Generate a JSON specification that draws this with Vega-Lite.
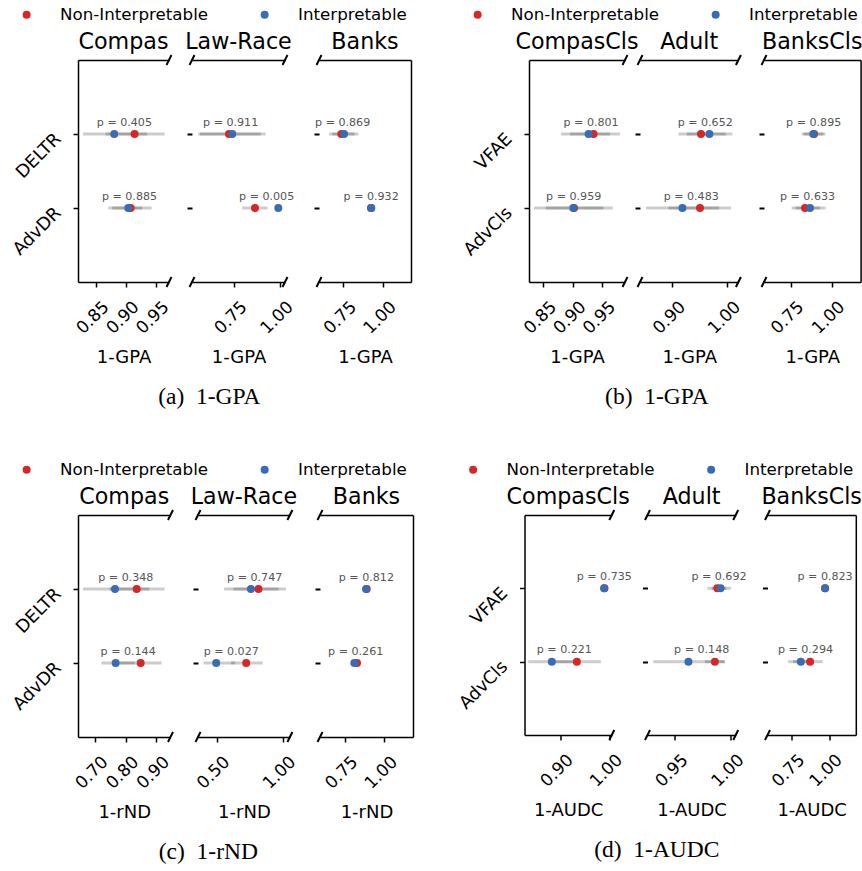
{
"$schema": "https://vega.github.io/schema/vega-lite/v6.json",
"background": "white",
"padding": {"left": 9, "top": 6, "right": 0, "bottom": 0},
"datasets": {"pts": [
{"f":"a1","m":"DELTR","g":"Non-Interpretable","v":0.9145,"lo":0.8662,"hi":0.9645,"p":0.405},
{"f":"a1","m":"AdvDR","g":"Non-Interpretable","v":0.908,"lo":0.8772,"hi":0.9428,"p":0.885},
{"f":"a2","m":"DELTR","g":"Non-Interpretable","v":0.7228,"lo":0.565,"hi":0.895,"p":0.911},
{"f":"a2","m":"AdvDR","g":"Non-Interpretable","v":0.864,"lo":0.795,"hi":0.933,"p":0.005},
{"f":"a3","m":"DELTR","g":"Non-Interpretable","v":0.7374,"lo":0.66,"hi":0.82,"p":0.869},
{"f":"a3","m":"AdvDR","g":"Non-Interpretable","v":0.924,"lo":0.924,"hi":0.924,"p":0.932},
{"f":"b1","m":"VFAE","g":"Non-Interpretable","v":0.935,"lo":0.8951,"hi":0.9798,"p":0.801},
{"f":"b1","m":"AdvCls","g":"Non-Interpretable","v":0.902,"lo":0.8539,"hi":0.9675,"p":0.959},
{"f":"b2","m":"VFAE","g":"Non-Interpretable","v":0.952,"lo":0.9109,"hi":0.9969,"p":0.652},
{"f":"b2","m":"AdvCls","g":"Non-Interpretable","v":0.9502,"lo":0.8927,"hi":1.0065,"p":0.483},
{"f":"b3","m":"VFAE","g":"Non-Interpretable","v":0.893,"lo":0.817,"hi":0.95,"p":0.895},
{"f":"b3","m":"AdvCls","g":"Non-Interpretable","v":0.8378,"lo":0.756,"hi":0.93,"p":0.633},
{"f":"c1","m":"DELTR","g":"Non-Interpretable","v":0.836,"lo":0.747,"hi":0.9273,"p":0.348},
{"f":"c1","m":"AdvDR","g":"Non-Interpretable","v":0.849,"lo":0.78,"hi":0.9173,"p":0.144},
{"f":"c2","m":"DELTR","g":"Non-Interpretable","v":0.818,"lo":0.629,"hi":1.027,"p":0.747},
{"f":"c2","m":"AdvDR","g":"Non-Interpretable","v":0.725,"lo":0.61,"hi":0.85,"p":0.027},
{"f":"c3","m":"DELTR","g":"Non-Interpretable","v":0.889,"lo":0.889,"hi":0.889,"p":0.812},
{"f":"c3","m":"AdvDR","g":"Non-Interpretable","v":0.8277,"lo":0.8277,"hi":0.8277,"p":0.261},
{"f":"d1","m":"VFAE","g":"Non-Interpretable","v":0.99,"lo":0.99,"hi":0.99,"p":0.735},
{"f":"d1","m":"AdvCls","g":"Non-Interpretable","v":0.934,"lo":0.883,"hi":0.9828,"p":0.221},
{"f":"d2","m":"VFAE","g":"Non-Interpretable","v":0.9879,"lo":0.9791,"hi":0.996,"p":0.692},
{"f":"d2","m":"AdvCls","g":"Non-Interpretable","v":0.9857,"lo":0.9768,"hi":0.9946,"p":0.148},
{"f":"d3","m":"VFAE","g":"Non-Interpretable","v":0.973,"lo":0.973,"hi":0.973,"p":0.823},
{"f":"d3","m":"AdvCls","g":"Non-Interpretable","v":0.8737,"lo":0.76,"hi":0.957,"p":0.294},
{"f":"a1","m":"DELTR","g":"Interpretable","v":0.8805,"lo":0.8283,"hi":0.9355,"p":0.405},
{"f":"a1","m":"AdvDR","g":"Interpretable","v":0.904,"lo":0.8705,"hi":0.9272,"p":0.885},
{"f":"a2","m":"DELTR","g":"Interpretable","v":0.7408,"lo":0.556,"hi":0.922,"p":0.911},
{"f":"a2","m":"AdvDR","g":"Interpretable","v":0.9908,"lo":0.9908,"hi":0.9908,"p":0.005},
{"f":"a3","m":"DELTR","g":"Interpretable","v":0.7544,"lo":0.68,"hi":0.8445,"p":0.869},
{"f":"a3","m":"AdvDR","g":"Interpretable","v":0.9263,"lo":0.9263,"hi":0.9263,"p":0.932},
{"f":"b1","m":"VFAE","g":"Interpretable","v":0.9266,"lo":0.8798,"hi":0.9629,"p":0.801},
{"f":"b1","m":"AdvCls","g":"Interpretable","v":0.9007,"lo":0.8342,"hi":0.9517,"p":0.959},
{"f":"b2","m":"VFAE","g":"Interpretable","v":0.9673,"lo":0.926,"hi":1.0091,"p":0.652},
{"f":"b2","m":"AdvCls","g":"Interpretable","v":0.9182,"lo":0.852,"hi":0.9847,"p":0.483},
{"f":"b3","m":"VFAE","g":"Interpretable","v":0.8884,"lo":0.83,"hi":0.9634,"p":0.895},
{"f":"b3","m":"AdvCls","g":"Interpretable","v":0.8683,"lo":0.78,"hi":0.963,"p":0.633},
{"f":"c1","m":"DELTR","g":"Interpretable","v":0.7652,"lo":0.6609,"hi":0.877,"p":0.348},
{"f":"c1","m":"AdvDR","g":"Interpretable","v":0.7674,"lo":0.7206,"hi":0.83,"p":0.144},
{"f":"c2","m":"DELTR","g":"Interpretable","v":0.7606,"lo":0.558,"hi":0.97,"p":0.747},
{"f":"c2","m":"AdvDR","g":"Interpretable","v":0.4977,"lo":0.401,"hi":0.64,"p":0.027},
{"f":"c3","m":"DELTR","g":"Interpretable","v":0.8845,"lo":0.8845,"hi":0.8845,"p":0.812},
{"f":"c3","m":"AdvDR","g":"Interpretable","v":0.8106,"lo":0.8106,"hi":0.8106,"p":0.261},
{"f":"d1","m":"VFAE","g":"Interpretable","v":0.9893,"lo":0.9893,"hi":0.9893,"p":0.735},
{"f":"d1","m":"AdvCls","g":"Interpretable","v":0.8832,"lo":0.8355,"hi":0.934,"p":0.221},
{"f":"d2","m":"VFAE","g":"Interpretable","v":0.9908,"lo":0.983,"hi":1.0,"p":0.692},
{"f":"d2","m":"AdvCls","g":"Interpretable","v":0.9621,"lo":0.9306,"hi":0.9946,"p":0.148},
{"f":"d3","m":"VFAE","g":"Interpretable","v":0.9734,"lo":0.9734,"hi":0.9734,"p":0.823},
{"f":"d3","m":"AdvCls","g":"Interpretable","v":0.8118,"lo":0.728,"hi":0.9,"p":0.294}
]},
"vconcat": [
{"hconcat": [
{"hconcat": [
{"width":91,"height":222,"title":{"text":"Compas"},"layer":[
{"data":{"name":"pts"},"transform":[{"filter":"datum.f=='a1'"}],"mark":{"type":"rule","color":"black","opacity":0.2,"strokeWidth":3},"encoding":{"x":{"field":"lo","type":"quantitative","scale":{"domain":[0.82,0.972],"nice":false,"zero":false},"axis":{"values":[0.85,0.9,0.95],"format":".2f","title":"1-GPA"}},"x2":{"field":"hi"},"y":{"field":"m","type":"nominal","scale":{"type":"point","domain":["DELTR","AdvDR"],"padding":1},"axis":{"title":null}}}},
{"data":{"name":"pts"},"transform":[{"filter":"datum.f=='a1'"}],"mark":{"type":"point","filled":true,"size":64,"opacity":1},"encoding":{"x":{"field":"v","type":"quantitative","scale":{"domain":[0.82,0.972],"nice":false,"zero":false},"axis":null},"y":{"field":"m","type":"nominal","scale":{"type":"point","domain":["DELTR","AdvDR"],"padding":1},"axis":null},"color":{"field":"g","type":"nominal","scale":{"domain":["Non-Interpretable","Interpretable"],"range":["#d62728","#3a6bb5"]},"legend":{"title":null,"legendX":-59.7,"legendY":-54}}}},
{"data":{"name":"pts"},"transform":[{"filter":"datum.f=='a1'"},{"aggregate":[{"op":"mean","field":"v","as":"mid"}],"groupby":["m","p"]}],"mark":{"type":"text","fontSize":11.1,"color":"#555555","baseline":"alphabetic","dy":-8.5},"encoding":{"x":{"field":"mid","type":"quantitative","scale":{"domain":[0.82,0.972],"nice":false,"zero":false},"axis":null},"y":{"field":"m","type":"nominal","scale":{"type":"point","domain":["DELTR","AdvDR"],"padding":1},"axis":null},"text":{"value":{"expr":"'p = ' + format(datum.p, '.3f')"}}}},
{"data":{"values":[{"e":0.972}]},"mark":{"type":"point","shape":"M-0.5,1L0.5,-1","size":100,"filled":false,"color":"black","strokeWidth":2,"opacity":1},"encoding":{"x":{"field":"e","type":"quantitative","scale":{"domain":[0.82,0.972],"nice":false,"zero":false},"axis":{"orient":"top","labels":false,"ticks":false,"title":null}},"y":{"value":0}}},
{"data":{"values":[{"e":0.972}]},"mark":{"type":"point","shape":"M-0.5,1L0.5,-1","size":100,"filled":false,"color":"black","strokeWidth":2,"opacity":1},"encoding":{"x":{"field":"e","type":"quantitative","scale":{"domain":[0.82,0.972],"nice":false,"zero":false},"axis":null},"y":{"value":"height"}}}
],"resolve":{"axis":{"x":"independent","y":"independent"}}},
{"width":23,"height":222,"data":{"values":[{}]},"mark":{"type":"point","opacity":0}},
{"width":93,"height":222,"title":{"text":"Law-Race"},"layer":[
{"data":{"name":"pts"},"transform":[{"filter":"datum.f=='a2'"}],"mark":{"type":"rule","color":"black","opacity":0.2,"strokeWidth":3},"encoding":{"x":{"field":"lo","type":"quantitative","scale":{"domain":[0.522,1.027],"nice":false,"zero":false},"axis":{"values":[0.75,1.0],"format":".2f","title":"1-GPA"}},"x2":{"field":"hi"},"y":{"field":"m","type":"nominal","scale":{"type":"point","domain":["DELTR","AdvDR"],"padding":1},"axis":{"title":null,"labels":false,"domain":false,"tickWidth":2}}}},
{"data":{"name":"pts"},"transform":[{"filter":"datum.f=='a2'"}],"mark":{"type":"point","filled":true,"size":64,"opacity":1},"encoding":{"x":{"field":"v","type":"quantitative","scale":{"domain":[0.522,1.027],"nice":false,"zero":false},"axis":null},"y":{"field":"m","type":"nominal","scale":{"type":"point","domain":["DELTR","AdvDR"],"padding":1},"axis":null},"color":{"field":"g","type":"nominal","scale":{"domain":["Non-Interpretable","Interpretable"],"range":["#d62728","#3a6bb5"]},"legend":{"title":null,"legendX":-59.7,"legendY":-54}}}},
{"data":{"name":"pts"},"transform":[{"filter":"datum.f=='a2'"},{"aggregate":[{"op":"mean","field":"v","as":"mid"}],"groupby":["m","p"]}],"mark":{"type":"text","fontSize":11.1,"color":"#555555","baseline":"alphabetic","dy":-8.5},"encoding":{"x":{"field":"mid","type":"quantitative","scale":{"domain":[0.522,1.027],"nice":false,"zero":false},"axis":null},"y":{"field":"m","type":"nominal","scale":{"type":"point","domain":["DELTR","AdvDR"],"padding":1},"axis":null},"text":{"value":{"expr":"'p = ' + format(datum.p, '.3f')"}}}},
{"data":{"values":[{"e":0.522},{"e":1.027}]},"mark":{"type":"point","shape":"M-0.5,1L0.5,-1","size":100,"filled":false,"color":"black","strokeWidth":2,"opacity":1},"encoding":{"x":{"field":"e","type":"quantitative","scale":{"domain":[0.522,1.027],"nice":false,"zero":false},"axis":{"orient":"top","labels":false,"ticks":false,"title":null}},"y":{"value":0}}},
{"data":{"values":[{"e":0.522},{"e":1.027}]},"mark":{"type":"point","shape":"M-0.5,1L0.5,-1","size":100,"filled":false,"color":"black","strokeWidth":2,"opacity":1},"encoding":{"x":{"field":"e","type":"quantitative","scale":{"domain":[0.522,1.027],"nice":false,"zero":false},"axis":null},"y":{"value":"height"}}}
],"resolve":{"axis":{"x":"independent","y":"independent"}}},
{"width":34,"height":222,"data":{"values":[{}]},"mark":{"type":"point","opacity":0}},
{"width":92,"height":222,"title":{"text":"Banks"},"layer":[
{"data":{"name":"pts"},"transform":[{"filter":"datum.f=='a3'"}],"mark":{"type":"rule","color":"black","opacity":0.2,"strokeWidth":3},"encoding":{"x":{"field":"lo","type":"quantitative","scale":{"domain":[0.597,1.176],"nice":false,"zero":false},"axis":{"values":[0.75,1.0],"format":".2f","title":"1-GPA"}},"x2":{"field":"hi"},"y":{"field":"m","type":"nominal","scale":{"type":"point","domain":["DELTR","AdvDR"],"padding":1},"axis":{"title":null,"labels":false,"domain":false,"tickWidth":2}}}},
{"data":{"name":"pts"},"transform":[{"filter":"datum.f=='a3'"}],"mark":{"type":"point","filled":true,"size":64,"opacity":1},"encoding":{"x":{"field":"v","type":"quantitative","scale":{"domain":[0.597,1.176],"nice":false,"zero":false},"axis":null},"y":{"field":"m","type":"nominal","scale":{"type":"point","domain":["DELTR","AdvDR"],"padding":1},"axis":null},"color":{"field":"g","type":"nominal","scale":{"domain":["Non-Interpretable","Interpretable"],"range":["#d62728","#3a6bb5"]},"legend":{"title":null,"legendX":-59.7,"legendY":-54}}}},
{"data":{"name":"pts"},"transform":[{"filter":"datum.f=='a3'"},{"aggregate":[{"op":"mean","field":"v","as":"mid"}],"groupby":["m","p"]}],"mark":{"type":"text","fontSize":11.1,"color":"#555555","baseline":"alphabetic","dy":-8.5},"encoding":{"x":{"field":"mid","type":"quantitative","scale":{"domain":[0.597,1.176],"nice":false,"zero":false},"axis":null},"y":{"field":"m","type":"nominal","scale":{"type":"point","domain":["DELTR","AdvDR"],"padding":1},"axis":{"orient":"right","title":null,"labels":false,"ticks":false}},"text":{"value":{"expr":"'p = ' + format(datum.p, '.3f')"}}}},
{"data":{"values":[{"e":0.597}]},"mark":{"type":"point","shape":"M-0.5,1L0.5,-1","size":100,"filled":false,"color":"black","strokeWidth":2,"opacity":1},"encoding":{"x":{"field":"e","type":"quantitative","scale":{"domain":[0.597,1.176],"nice":false,"zero":false},"axis":{"orient":"top","labels":false,"ticks":false,"title":null}},"y":{"value":0}}},
{"data":{"values":[{"e":0.597}]},"mark":{"type":"point","shape":"M-0.5,1L0.5,-1","size":100,"filled":false,"color":"black","strokeWidth":2,"opacity":1},"encoding":{"x":{"field":"e","type":"quantitative","scale":{"domain":[0.597,1.176],"nice":false,"zero":false},"axis":null},"y":{"value":"height"}}}
],"resolve":{"axis":{"x":"independent","y":"independent"}}}
],"spacing":0,"bounds":"flush","title":{"text":"(a)\u20021-GPA","orient":"bottom","font":"Liberation Serif","fontSize":23.5,"frame":"bounds","offset":38,"baseline":"alphabetic","dx":-1}},
{"hconcat": [
{"width":96,"height":222,"title":{"text":"CompasCls"},"layer":[
{"data":{"name":"pts"},"transform":[{"filter":"datum.f=='b1'"}],"mark":{"type":"rule","color":"black","opacity":0.2,"strokeWidth":3},"encoding":{"x":{"field":"lo","type":"quantitative","scale":{"domain":[0.8256,0.9883],"nice":false,"zero":false},"axis":{"values":[0.85,0.9,0.95],"format":".2f","title":"1-GPA"}},"x2":{"field":"hi"},"y":{"field":"m","type":"nominal","scale":{"type":"point","domain":["VFAE","AdvCls"],"padding":1},"axis":{"title":null}}}},
{"data":{"name":"pts"},"transform":[{"filter":"datum.f=='b1'"}],"mark":{"type":"point","filled":true,"size":64,"opacity":1},"encoding":{"x":{"field":"v","type":"quantitative","scale":{"domain":[0.8256,0.9883],"nice":false,"zero":false},"axis":null},"y":{"field":"m","type":"nominal","scale":{"type":"point","domain":["VFAE","AdvCls"],"padding":1},"axis":null},"color":{"field":"g","type":"nominal","scale":{"domain":["Non-Interpretable","Interpretable"],"range":["#d62728","#3a6bb5"]},"legend":{"title":null,"legendX":-59.7,"legendY":-54}}}},
{"data":{"name":"pts"},"transform":[{"filter":"datum.f=='b1'"},{"aggregate":[{"op":"mean","field":"v","as":"mid"}],"groupby":["m","p"]}],"mark":{"type":"text","fontSize":11.1,"color":"#555555","baseline":"alphabetic","dy":-8.5},"encoding":{"x":{"field":"mid","type":"quantitative","scale":{"domain":[0.8256,0.9883],"nice":false,"zero":false},"axis":null},"y":{"field":"m","type":"nominal","scale":{"type":"point","domain":["VFAE","AdvCls"],"padding":1},"axis":null},"text":{"value":{"expr":"'p = ' + format(datum.p, '.3f')"}}}},
{"data":{"values":[{"e":0.9883}]},"mark":{"type":"point","shape":"M-0.5,1L0.5,-1","size":100,"filled":false,"color":"black","strokeWidth":2,"opacity":1},"encoding":{"x":{"field":"e","type":"quantitative","scale":{"domain":[0.8256,0.9883],"nice":false,"zero":false},"axis":{"orient":"top","labels":false,"ticks":false,"title":null}},"y":{"value":0}}},
{"data":{"values":[{"e":0.9883}]},"mark":{"type":"point","shape":"M-0.5,1L0.5,-1","size":100,"filled":false,"color":"black","strokeWidth":2,"opacity":1},"encoding":{"x":{"field":"e","type":"quantitative","scale":{"domain":[0.8256,0.9883],"nice":false,"zero":false},"axis":null},"y":{"value":"height"}}}
],"resolve":{"axis":{"x":"independent","y":"independent"}}},
{"width":15,"height":222,"data":{"values":[{}]},"mark":{"type":"point","opacity":0}},
{"width":98.4,"height":222,"title":{"text":"Adult"},"layer":[
{"data":{"name":"pts"},"transform":[{"filter":"datum.f=='b2'"}],"mark":{"type":"rule","color":"black","opacity":0.2,"strokeWidth":3},"encoding":{"x":{"field":"lo","type":"quantitative","scale":{"domain":[0.8411,1.02],"nice":false,"zero":false},"axis":{"values":[0.9,1.0],"format":".2f","title":"1-GPA"}},"x2":{"field":"hi"},"y":{"field":"m","type":"nominal","scale":{"type":"point","domain":["VFAE","AdvCls"],"padding":1},"axis":{"title":null,"labels":false,"domain":false,"tickWidth":2}}}},
{"data":{"name":"pts"},"transform":[{"filter":"datum.f=='b2'"}],"mark":{"type":"point","filled":true,"size":64,"opacity":1},"encoding":{"x":{"field":"v","type":"quantitative","scale":{"domain":[0.8411,1.02],"nice":false,"zero":false},"axis":null},"y":{"field":"m","type":"nominal","scale":{"type":"point","domain":["VFAE","AdvCls"],"padding":1},"axis":null},"color":{"field":"g","type":"nominal","scale":{"domain":["Non-Interpretable","Interpretable"],"range":["#d62728","#3a6bb5"]},"legend":{"title":null,"legendX":-59.7,"legendY":-54}}}},
{"data":{"name":"pts"},"transform":[{"filter":"datum.f=='b2'"},{"aggregate":[{"op":"mean","field":"v","as":"mid"}],"groupby":["m","p"]}],"mark":{"type":"text","fontSize":11.1,"color":"#555555","baseline":"alphabetic","dy":-8.5},"encoding":{"x":{"field":"mid","type":"quantitative","scale":{"domain":[0.8411,1.02],"nice":false,"zero":false},"axis":null},"y":{"field":"m","type":"nominal","scale":{"type":"point","domain":["VFAE","AdvCls"],"padding":1},"axis":null},"text":{"value":{"expr":"'p = ' + format(datum.p, '.3f')"}}}},
{"data":{"values":[{"e":0.8411},{"e":1.02}]},"mark":{"type":"point","shape":"M-0.5,1L0.5,-1","size":100,"filled":false,"color":"black","strokeWidth":2,"opacity":1},"encoding":{"x":{"field":"e","type":"quantitative","scale":{"domain":[0.8411,1.02],"nice":false,"zero":false},"axis":{"orient":"top","labels":false,"ticks":false,"title":null}},"y":{"value":0}}},
{"data":{"values":[{"e":0.8411},{"e":1.02}]},"mark":{"type":"point","shape":"M-0.5,1L0.5,-1","size":100,"filled":false,"color":"black","strokeWidth":2,"opacity":1},"encoding":{"x":{"field":"e","type":"quantitative","scale":{"domain":[0.8411,1.02],"nice":false,"zero":false},"axis":null},"y":{"value":"height"}}}
],"resolve":{"axis":{"x":"independent","y":"independent"}}},
{"width":25,"height":222,"data":{"values":[{}]},"mark":{"type":"point","opacity":0}},
{"width":96.6,"height":222,"title":{"text":"BanksCls"},"layer":[
{"data":{"name":"pts"},"transform":[{"filter":"datum.f=='b3'"}],"mark":{"type":"rule","color":"black","opacity":0.2,"strokeWidth":3},"encoding":{"x":{"field":"lo","type":"quantitative","scale":{"domain":[0.5878,1.1768],"nice":false,"zero":false},"axis":{"values":[0.75,1.0],"format":".2f","title":"1-GPA"}},"x2":{"field":"hi"},"y":{"field":"m","type":"nominal","scale":{"type":"point","domain":["VFAE","AdvCls"],"padding":1},"axis":{"title":null,"labels":false,"domain":false,"tickWidth":2}}}},
{"data":{"name":"pts"},"transform":[{"filter":"datum.f=='b3'"}],"mark":{"type":"point","filled":true,"size":64,"opacity":1},"encoding":{"x":{"field":"v","type":"quantitative","scale":{"domain":[0.5878,1.1768],"nice":false,"zero":false},"axis":null},"y":{"field":"m","type":"nominal","scale":{"type":"point","domain":["VFAE","AdvCls"],"padding":1},"axis":null},"color":{"field":"g","type":"nominal","scale":{"domain":["Non-Interpretable","Interpretable"],"range":["#d62728","#3a6bb5"]},"legend":{"title":null,"legendX":-59.7,"legendY":-54}}}},
{"data":{"name":"pts"},"transform":[{"filter":"datum.f=='b3'"},{"aggregate":[{"op":"mean","field":"v","as":"mid"}],"groupby":["m","p"]}],"mark":{"type":"text","fontSize":11.1,"color":"#555555","baseline":"alphabetic","dy":-8.5},"encoding":{"x":{"field":"mid","type":"quantitative","scale":{"domain":[0.5878,1.1768],"nice":false,"zero":false},"axis":null},"y":{"field":"m","type":"nominal","scale":{"type":"point","domain":["VFAE","AdvCls"],"padding":1},"axis":{"orient":"right","title":null,"labels":false,"ticks":false}},"text":{"value":{"expr":"'p = ' + format(datum.p, '.3f')"}}}},
{"data":{"values":[{"e":0.5878}]},"mark":{"type":"point","shape":"M-0.5,1L0.5,-1","size":100,"filled":false,"color":"black","strokeWidth":2,"opacity":1},"encoding":{"x":{"field":"e","type":"quantitative","scale":{"domain":[0.5878,1.1768],"nice":false,"zero":false},"axis":{"orient":"top","labels":false,"ticks":false,"title":null}},"y":{"value":0}}},
{"data":{"values":[{"e":0.5878}]},"mark":{"type":"point","shape":"M-0.5,1L0.5,-1","size":100,"filled":false,"color":"black","strokeWidth":2,"opacity":1},"encoding":{"x":{"field":"e","type":"quantitative","scale":{"domain":[0.5878,1.1768],"nice":false,"zero":false},"axis":null},"y":{"value":"height"}}}
],"resolve":{"axis":{"x":"independent","y":"independent"}}}
],"spacing":0,"bounds":"flush","title":{"text":"(b)\u20021-GPA","orient":"bottom","font":"Liberation Serif","fontSize":23.5,"frame":"bounds","offset":38,"baseline":"alphabetic","dx":-4.5}}
],"spacing":49,"resolve":{"scale":{"color":"independent"},"legend":{"color":"independent"}}},
{"hconcat": [
{"hconcat": [
{"width":92.5,"height":222,"title":{"text":"Compas"},"layer":[
{"data":{"name":"pts"},"transform":[{"filter":"datum.f=='c1'"}],"mark":{"type":"rule","color":"black","opacity":0.2,"strokeWidth":3},"encoding":{"x":{"field":"lo","type":"quantitative","scale":{"domain":[0.6446,0.9463],"nice":false,"zero":false},"axis":{"values":[0.7,0.8,0.9],"format":".2f","title":"1-rND"}},"x2":{"field":"hi"},"y":{"field":"m","type":"nominal","scale":{"type":"point","domain":["DELTR","AdvDR"],"padding":1},"axis":{"title":null}}}},
{"data":{"name":"pts"},"transform":[{"filter":"datum.f=='c1'"}],"mark":{"type":"point","filled":true,"size":64,"opacity":1},"encoding":{"x":{"field":"v","type":"quantitative","scale":{"domain":[0.6446,0.9463],"nice":false,"zero":false},"axis":null},"y":{"field":"m","type":"nominal","scale":{"type":"point","domain":["DELTR","AdvDR"],"padding":1},"axis":null},"color":{"field":"g","type":"nominal","scale":{"domain":["Non-Interpretable","Interpretable"],"range":["#d62728","#3a6bb5"]},"legend":{"title":null,"legendX":-63.1,"legendY":-57.4,"padding":3.4,"fillColor":"white"}}}},
{"data":{"name":"pts"},"transform":[{"filter":"datum.f=='c1'"},{"aggregate":[{"op":"mean","field":"v","as":"mid"}],"groupby":["m","p"]}],"mark":{"type":"text","fontSize":11.1,"color":"#555555","baseline":"alphabetic","dy":-8.5},"encoding":{"x":{"field":"mid","type":"quantitative","scale":{"domain":[0.6446,0.9463],"nice":false,"zero":false},"axis":null},"y":{"field":"m","type":"nominal","scale":{"type":"point","domain":["DELTR","AdvDR"],"padding":1},"axis":null},"text":{"value":{"expr":"'p = ' + format(datum.p, '.3f')"}}}},
{"data":{"values":[{"e":0.9463}]},"mark":{"type":"point","shape":"M-0.5,1L0.5,-1","size":100,"filled":false,"color":"black","strokeWidth":2,"opacity":1},"encoding":{"x":{"field":"e","type":"quantitative","scale":{"domain":[0.6446,0.9463],"nice":false,"zero":false},"axis":{"orient":"top","labels":false,"ticks":false,"title":null}},"y":{"value":0}}},
{"data":{"values":[{"e":0.9463}]},"mark":{"type":"point","shape":"M-0.5,1L0.5,-1","size":100,"filled":false,"color":"black","strokeWidth":2,"opacity":1},"encoding":{"x":{"field":"e","type":"quantitative","scale":{"domain":[0.6446,0.9463],"nice":false,"zero":false},"axis":null},"y":{"value":"height"}}}
],"resolve":{"axis":{"x":"independent","y":"independent"}}},
{"width":26.3,"height":222,"data":{"values":[{}]},"mark":{"type":"point","opacity":0}},
{"width":91.9,"height":222,"title":{"text":"Law-Race"},"layer":[
{"data":{"name":"pts"},"transform":[{"filter":"datum.f=='c2'"}],"mark":{"type":"rule","color":"black","opacity":0.2,"strokeWidth":3},"encoding":{"x":{"field":"lo","type":"quantitative","scale":{"domain":[0.3598,1.056],"nice":false,"zero":false},"axis":{"values":[0.5,1.0],"format":".2f","title":"1-rND"}},"x2":{"field":"hi"},"y":{"field":"m","type":"nominal","scale":{"type":"point","domain":["DELTR","AdvDR"],"padding":1},"axis":{"title":null,"labels":false,"domain":false,"tickWidth":2}}}},
{"data":{"name":"pts"},"transform":[{"filter":"datum.f=='c2'"}],"mark":{"type":"point","filled":true,"size":64,"opacity":1},"encoding":{"x":{"field":"v","type":"quantitative","scale":{"domain":[0.3598,1.056],"nice":false,"zero":false},"axis":null},"y":{"field":"m","type":"nominal","scale":{"type":"point","domain":["DELTR","AdvDR"],"padding":1},"axis":null},"color":{"field":"g","type":"nominal","scale":{"domain":["Non-Interpretable","Interpretable"],"range":["#d62728","#3a6bb5"]},"legend":{"title":null,"legendX":-63.1,"legendY":-57.4,"padding":3.4,"fillColor":"white"}}}},
{"data":{"name":"pts"},"transform":[{"filter":"datum.f=='c2'"},{"aggregate":[{"op":"mean","field":"v","as":"mid"}],"groupby":["m","p"]}],"mark":{"type":"text","fontSize":11.1,"color":"#555555","baseline":"alphabetic","dy":-8.5},"encoding":{"x":{"field":"mid","type":"quantitative","scale":{"domain":[0.3598,1.056],"nice":false,"zero":false},"axis":null},"y":{"field":"m","type":"nominal","scale":{"type":"point","domain":["DELTR","AdvDR"],"padding":1},"axis":null},"text":{"value":{"expr":"'p = ' + format(datum.p, '.3f')"}}}},
{"data":{"values":[{"e":0.3598},{"e":1.056}]},"mark":{"type":"point","shape":"M-0.5,1L0.5,-1","size":100,"filled":false,"color":"black","strokeWidth":2,"opacity":1},"encoding":{"x":{"field":"e","type":"quantitative","scale":{"domain":[0.3598,1.056],"nice":false,"zero":false},"axis":{"orient":"top","labels":false,"ticks":false,"title":null}},"y":{"value":0}}},
{"data":{"values":[{"e":0.3598},{"e":1.056}]},"mark":{"type":"point","shape":"M-0.5,1L0.5,-1","size":100,"filled":false,"color":"black","strokeWidth":2,"opacity":1},"encoding":{"x":{"field":"e","type":"quantitative","scale":{"domain":[0.3598,1.056],"nice":false,"zero":false},"axis":null},"y":{"value":"height"}}}
],"resolve":{"axis":{"x":"independent","y":"independent"}}},
{"width":29.3,"height":222,"data":{"values":[{}]},"mark":{"type":"point","opacity":0}},
{"width":93,"height":222,"title":{"text":"Banks"},"layer":[
{"data":{"name":"pts"},"transform":[{"filter":"datum.f=='c3'"}],"mark":{"type":"rule","color":"black","opacity":0.2,"strokeWidth":3},"encoding":{"x":{"field":"lo","type":"quantitative","scale":{"domain":[0.594,1.181],"nice":false,"zero":false},"axis":{"values":[0.75,1.0],"format":".2f","title":"1-rND"}},"x2":{"field":"hi"},"y":{"field":"m","type":"nominal","scale":{"type":"point","domain":["DELTR","AdvDR"],"padding":1},"axis":{"title":null,"labels":false,"domain":false,"tickWidth":2}}}},
{"data":{"name":"pts"},"transform":[{"filter":"datum.f=='c3'"}],"mark":{"type":"point","filled":true,"size":64,"opacity":1},"encoding":{"x":{"field":"v","type":"quantitative","scale":{"domain":[0.594,1.181],"nice":false,"zero":false},"axis":null},"y":{"field":"m","type":"nominal","scale":{"type":"point","domain":["DELTR","AdvDR"],"padding":1},"axis":null},"color":{"field":"g","type":"nominal","scale":{"domain":["Non-Interpretable","Interpretable"],"range":["#d62728","#3a6bb5"]},"legend":{"title":null,"legendX":-63.1,"legendY":-57.4,"padding":3.4,"fillColor":"white"}}}},
{"data":{"name":"pts"},"transform":[{"filter":"datum.f=='c3'"},{"aggregate":[{"op":"mean","field":"v","as":"mid"}],"groupby":["m","p"]}],"mark":{"type":"text","fontSize":11.1,"color":"#555555","baseline":"alphabetic","dy":-8.5},"encoding":{"x":{"field":"mid","type":"quantitative","scale":{"domain":[0.594,1.181],"nice":false,"zero":false},"axis":null},"y":{"field":"m","type":"nominal","scale":{"type":"point","domain":["DELTR","AdvDR"],"padding":1},"axis":{"orient":"right","title":null,"labels":false,"ticks":false}},"text":{"value":{"expr":"'p = ' + format(datum.p, '.3f')"}}}},
{"data":{"values":[{"e":0.594}]},"mark":{"type":"point","shape":"M-0.5,1L0.5,-1","size":100,"filled":false,"color":"black","strokeWidth":2,"opacity":1},"encoding":{"x":{"field":"e","type":"quantitative","scale":{"domain":[0.594,1.181],"nice":false,"zero":false},"axis":{"orient":"top","labels":false,"ticks":false,"title":null}},"y":{"value":0}}},
{"data":{"values":[{"e":0.594}]},"mark":{"type":"point","shape":"M-0.5,1L0.5,-1","size":100,"filled":false,"color":"black","strokeWidth":2,"opacity":1},"encoding":{"x":{"field":"e","type":"quantitative","scale":{"domain":[0.594,1.181],"nice":false,"zero":false},"axis":null},"y":{"value":"height"}}}
],"resolve":{"axis":{"x":"independent","y":"independent"}}}
],"spacing":0,"bounds":"flush","title":{"text":"(c)\u20021-rND","orient":"bottom","font":"Liberation Serif","fontSize":23.5,"frame":"bounds","offset":38,"baseline":"alphabetic","dx":-3}},
{"hconcat": [
{"width":87.3,"height":220,"title":{"text":"CompasCls"},"layer":[
{"data":{"name":"pts"},"transform":[{"filter":"datum.f=='d1'"}],"mark":{"type":"rule","color":"black","opacity":0.2,"strokeWidth":3},"encoding":{"x":{"field":"lo","type":"quantitative","scale":{"domain":[0.8278,1.0049],"nice":false,"zero":false},"axis":{"values":[0.9,1.0],"format":".2f","title":"1-AUDC"}},"x2":{"field":"hi"},"y":{"field":"m","type":"nominal","scale":{"type":"point","domain":["VFAE","AdvCls"],"padding":1},"axis":{"title":null}}}},
{"data":{"name":"pts"},"transform":[{"filter":"datum.f=='d1'"}],"mark":{"type":"point","filled":true,"size":64,"opacity":1},"encoding":{"x":{"field":"v","type":"quantitative","scale":{"domain":[0.8278,1.0049],"nice":false,"zero":false},"axis":null},"y":{"field":"m","type":"nominal","scale":{"type":"point","domain":["VFAE","AdvCls"],"padding":1},"axis":null},"color":{"field":"g","type":"nominal","scale":{"domain":["Non-Interpretable","Interpretable"],"range":["#d62728","#3a6bb5"]},"legend":{"title":null,"legendX":-59.7,"legendY":-54}}}},
{"data":{"name":"pts"},"transform":[{"filter":"datum.f=='d1'"},{"aggregate":[{"op":"mean","field":"v","as":"mid"}],"groupby":["m","p"]}],"mark":{"type":"text","fontSize":11.1,"color":"#555555","baseline":"alphabetic","dy":-8.5},"encoding":{"x":{"field":"mid","type":"quantitative","scale":{"domain":[0.8278,1.0049],"nice":false,"zero":false},"axis":null},"y":{"field":"m","type":"nominal","scale":{"type":"point","domain":["VFAE","AdvCls"],"padding":1},"axis":null},"text":{"value":{"expr":"'p = ' + format(datum.p, '.3f')"}}}},
{"data":{"values":[{"e":1.0049}]},"mark":{"type":"point","shape":"M-0.5,1L0.5,-1","size":100,"filled":false,"color":"black","strokeWidth":2,"opacity":1},"encoding":{"x":{"field":"e","type":"quantitative","scale":{"domain":[0.8278,1.0049],"nice":false,"zero":false},"axis":{"orient":"top","labels":false,"ticks":false,"title":null}},"y":{"value":0}}},
{"data":{"values":[{"e":1.0049}]},"mark":{"type":"point","shape":"M-0.5,1L0.5,-1","size":100,"filled":false,"color":"black","strokeWidth":2,"opacity":1},"encoding":{"x":{"field":"e","type":"quantitative","scale":{"domain":[0.8278,1.0049],"nice":false,"zero":false},"axis":null},"y":{"value":"height"}}}
],"resolve":{"axis":{"x":"independent","y":"independent"}}},
{"width":34.3,"height":220,"data":{"values":[{}]},"mark":{"type":"point","opacity":0}},
{"width":88.2,"height":220,"title":{"text":"Adult"},"layer":[
{"data":{"name":"pts"},"transform":[{"filter":"datum.f=='d2'"}],"mark":{"type":"rule","color":"black","opacity":0.2,"strokeWidth":3},"encoding":{"x":{"field":"lo","type":"quantitative","scale":{"domain":[0.9255,1.0043],"nice":false,"zero":false},"axis":{"values":[0.95,1.0],"format":".2f","title":"1-AUDC"}},"x2":{"field":"hi"},"y":{"field":"m","type":"nominal","scale":{"type":"point","domain":["VFAE","AdvCls"],"padding":1},"axis":{"title":null,"labels":false,"domain":false,"tickWidth":2}}}},
{"data":{"name":"pts"},"transform":[{"filter":"datum.f=='d2'"}],"mark":{"type":"point","filled":true,"size":64,"opacity":1},"encoding":{"x":{"field":"v","type":"quantitative","scale":{"domain":[0.9255,1.0043],"nice":false,"zero":false},"axis":null},"y":{"field":"m","type":"nominal","scale":{"type":"point","domain":["VFAE","AdvCls"],"padding":1},"axis":null},"color":{"field":"g","type":"nominal","scale":{"domain":["Non-Interpretable","Interpretable"],"range":["#d62728","#3a6bb5"]},"legend":{"title":null,"legendX":-59.7,"legendY":-54}}}},
{"data":{"name":"pts"},"transform":[{"filter":"datum.f=='d2'"},{"aggregate":[{"op":"mean","field":"v","as":"mid"}],"groupby":["m","p"]}],"mark":{"type":"text","fontSize":11.1,"color":"#555555","baseline":"alphabetic","dy":-8.5},"encoding":{"x":{"field":"mid","type":"quantitative","scale":{"domain":[0.9255,1.0043],"nice":false,"zero":false},"axis":null},"y":{"field":"m","type":"nominal","scale":{"type":"point","domain":["VFAE","AdvCls"],"padding":1},"axis":null},"text":{"value":{"expr":"'p = ' + format(datum.p, '.3f')"}}}},
{"data":{"values":[{"e":0.9255},{"e":1.0043}]},"mark":{"type":"point","shape":"M-0.5,1L0.5,-1","size":100,"filled":false,"color":"black","strokeWidth":2,"opacity":1},"encoding":{"x":{"field":"e","type":"quantitative","scale":{"domain":[0.9255,1.0043],"nice":false,"zero":false},"axis":{"orient":"top","labels":false,"ticks":false,"title":null}},"y":{"value":0}}},
{"data":{"values":[{"e":0.9255},{"e":1.0043}]},"mark":{"type":"point","shape":"M-0.5,1L0.5,-1","size":100,"filled":false,"color":"black","strokeWidth":2,"opacity":1},"encoding":{"x":{"field":"e","type":"quantitative","scale":{"domain":[0.9255,1.0043],"nice":false,"zero":false},"axis":null},"y":{"value":"height"}}}
],"resolve":{"axis":{"x":"independent","y":"independent"}}},
{"width":30.2,"height":220,"data":{"values":[{}]},"mark":{"type":"point","opacity":0}},
{"width":88.3,"height":220,"title":{"text":"BanksCls"},"layer":[
{"data":{"name":"pts"},"transform":[{"filter":"datum.f=='d3'"}],"mark":{"type":"rule","color":"black","opacity":0.2,"strokeWidth":3},"encoding":{"x":{"field":"lo","type":"quantitative","scale":{"domain":[0.5904,1.1775],"nice":false,"zero":false},"axis":{"values":[0.75,1.0],"format":".2f","title":"1-AUDC"}},"x2":{"field":"hi"},"y":{"field":"m","type":"nominal","scale":{"type":"point","domain":["VFAE","AdvCls"],"padding":1},"axis":{"title":null,"labels":false,"domain":false,"tickWidth":2}}}},
{"data":{"name":"pts"},"transform":[{"filter":"datum.f=='d3'"}],"mark":{"type":"point","filled":true,"size":64,"opacity":1},"encoding":{"x":{"field":"v","type":"quantitative","scale":{"domain":[0.5904,1.1775],"nice":false,"zero":false},"axis":null},"y":{"field":"m","type":"nominal","scale":{"type":"point","domain":["VFAE","AdvCls"],"padding":1},"axis":null},"color":{"field":"g","type":"nominal","scale":{"domain":["Non-Interpretable","Interpretable"],"range":["#d62728","#3a6bb5"]},"legend":{"title":null,"legendX":-59.7,"legendY":-54}}}},
{"data":{"name":"pts"},"transform":[{"filter":"datum.f=='d3'"},{"aggregate":[{"op":"mean","field":"v","as":"mid"}],"groupby":["m","p"]}],"mark":{"type":"text","fontSize":11.1,"color":"#555555","baseline":"alphabetic","dy":-8.5},"encoding":{"x":{"field":"mid","type":"quantitative","scale":{"domain":[0.5904,1.1775],"nice":false,"zero":false},"axis":null},"y":{"field":"m","type":"nominal","scale":{"type":"point","domain":["VFAE","AdvCls"],"padding":1},"axis":{"orient":"right","title":null,"labels":false,"ticks":false}},"text":{"value":{"expr":"'p = ' + format(datum.p, '.3f')"}}}},
{"data":{"values":[{"e":0.5904}]},"mark":{"type":"point","shape":"M-0.5,1L0.5,-1","size":100,"filled":false,"color":"black","strokeWidth":2,"opacity":1},"encoding":{"x":{"field":"e","type":"quantitative","scale":{"domain":[0.5904,1.1775],"nice":false,"zero":false},"axis":{"orient":"top","labels":false,"ticks":false,"title":null}},"y":{"value":0}}},
{"data":{"values":[{"e":0.5904}]},"mark":{"type":"point","shape":"M-0.5,1L0.5,-1","size":100,"filled":false,"color":"black","strokeWidth":2,"opacity":1},"encoding":{"x":{"field":"e","type":"quantitative","scale":{"domain":[0.5904,1.1775],"nice":false,"zero":false},"axis":null},"y":{"value":"height"}}}
],"resolve":{"axis":{"x":"independent","y":"independent"}}}
],"spacing":0,"bounds":"flush","title":{"text":"(d)\u20021-AUDC","orient":"bottom","font":"Liberation Serif","fontSize":23.5,"frame":"bounds","offset":38,"baseline":"alphabetic","dx":-2}}
],"spacing":42.5,"resolve":{"scale":{"color":"independent"},"legend":{"color":"independent"}}}
],
"spacing":48,
"resolve":{"scale":{"color":"independent"},"legend":{"color":"independent"}},
"config":{
"font":"DejaVu Sans",
"view":{"stroke":null},
"axis":{"grid":false,"domainColor":"black","domainWidth":1.5,"tickColor":"black","tickWidth":1.5,"tickSize":5,"labelColor":"black","labelFont":"DejaVu Sans","labelFontSize":16.7,"titleFont":"DejaVu Sans","titleFontSize":18,"titleFontWeight":"normal","titleColor":"black","labelFlush":false,"labelOverlap":false},
"axisX":{"labelAngle":-45,"labelAlign":"right","labelBaseline":"middle","labelOffset":10,"labelPadding":17,"titlePadding":12,"labelFontSize":17},
"axisY":{"labelAngle":-45,"labelAlign":"right","labelBaseline":"middle","labelPadding":15,"labelOffset":2,"labelFontSize":17.7},
"title":{"font":"DejaVu Sans","fontSize":22.2,"fontWeight":"normal","color":"black","anchor":"middle","frame":"group","baseline":"alphabetic","offset":-2},
"legend":{"orient":"none","direction":"horizontal","labelFont":"DejaVu Sans","labelFontSize":16.7,"labelColor":"black","symbolType":"circle","symbolSize":64,"symbolStrokeWidth":0,"symbolOpacity":1,"labelOffset":25,"columnPadding":48,"padding":0}
}
}
